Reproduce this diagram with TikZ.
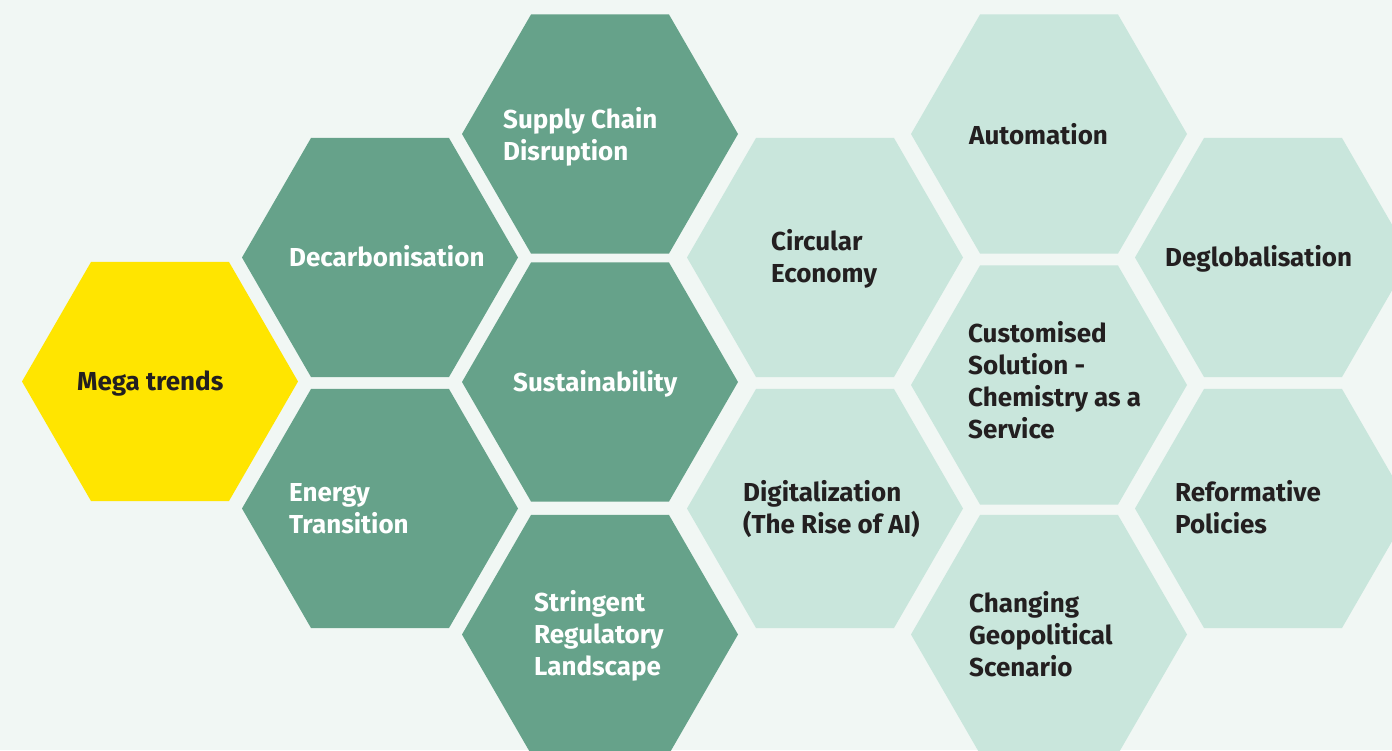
\documentclass[tikz,border=0pt]{standalone}
\usepackage{fontspec}
\usetikzlibrary{shapes.geometric}
\newfontfamily\hexfont{Fira Sans}
\definecolor{bgc}{HTML}{F1F7F4}
\definecolor{yel}{HTML}{FFE500}
\definecolor{dkg}{HTML}{66A28A}
\definecolor{ltg}{HTML}{C9E6DC}
\definecolor{txd}{HTML}{231F20}
\tikzset{
  hexbase/.style={regular polygon, regular polygon sides=6, minimum size=276pt, inner sep=0pt, draw=none},
  hexy/.style={hexbase, fill=yel},
  hexd/.style={hexbase, fill=dkg},
  hexl/.style={hexbase, fill=ltg},
  lab/.style={anchor=base west, inner sep=0pt, align=left, font=\hexfont\bfseries\fontsize{26}{32}\selectfont},
  labw/.style={lab, text=white},
  labd/.style={lab, text=txd},
}
\begin{document}
\begin{tikzpicture}[x=1pt,y=-1pt]
\fill[bgc] (0,0) rectangle (1392,750);
\useasboundingbox (0,0) rectangle (1392,750);
% hexagons
\node[hexy] (mega) at (160,381.5) {};
\node[hexd] (decarb) at (380,257.5) {};
\node[hexd] (energy) at (380,508.5) {};
\node[hexd] (supply) at (600,134) {};
\node[hexd] (sustain) at (600,382) {};
\node[hexd] (string) at (600,634.5) {};
\node[hexl] (circ) at (825,257.5) {};
\node[hexl] (digit) at (825,508.5) {};
\node[hexl] (autom) at (1049,134) {};
\node[hexl] (custom) at (1049,385) {};
\node[hexl] (chang) at (1049,634.5) {};
\node[hexl] (deglob) at (1273,257.5) {};
\node[hexl] (reform) at (1273,508.5) {};
% labels (anchor = baseline of the last line)
\node[labd] (megat) at (77,390) {Mega trends};
\node[labw] (decarbt) at (289,266.7) {Decarbonisation};
\node[labw] (energyt) at (289,533) {Energy\\Transition};
\node[labw] (supplyt) at (503,160.3) {Supply Chain\\Disruption};
\node[labw] (sustaint) at (513,391) {Sustainability};
\node[labw] (stringt) at (534,675.7) {Stringent\\Regulatory\\Landscape};
\node[labd] (circt) at (771,282) {Circular\\Economy};
\node[labd] (digitt) at (743,533) {Digitalization\\(The Rise of AI)};
\node[labd] (automt) at (969,144) {Automation};
\node[labd] (customt) at (968,438.7) {Customised\\Solution -\\Chemistry as a\\Service};
\node[labd] (changt) at (969,676) {Changing\\Geopolitical\\Scenario};
\node[labd] (deglobt) at (1165,266.7) {Deglobalisation};
\node[labd] (reformt) at (1175,533) {Reformative\\Policies};
\end{tikzpicture}
\end{document}
